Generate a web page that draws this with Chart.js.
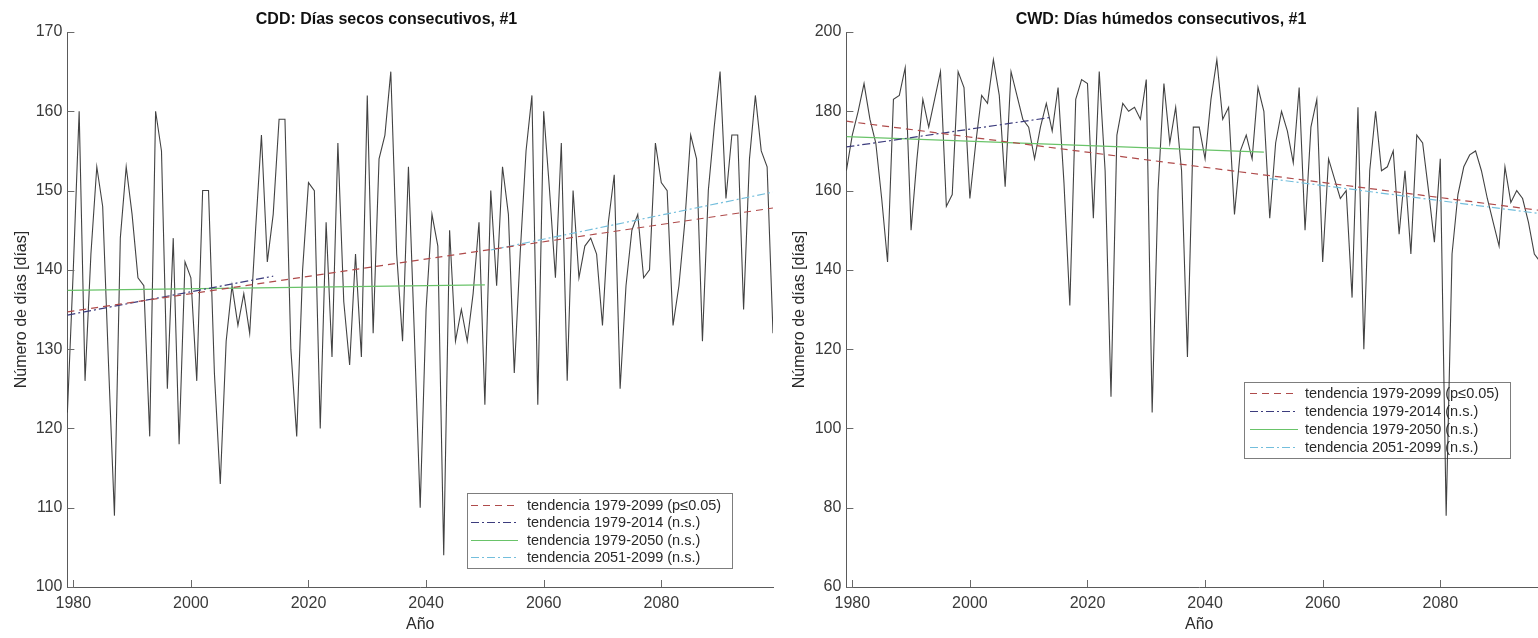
<!DOCTYPE html>
<html><head><meta charset="utf-8">
<script src="https://cdn.jsdelivr.net/npm/chart.js@4.4.1/dist/chart.umd.min.js"></script>
<style>
html,body{margin:0;padding:0;background:#fff;overflow:hidden;width:1538px;height:638px;}
#wrap{position:relative;width:1538px;height:638px;overflow:hidden;background:#fff;}
canvas{position:absolute;top:0;}
#c1{left:0;}
#c2{left:770px;}
</style></head><body>
<div id="wrap"><canvas id="c1" width="790" height="638"></canvas><canvas id="c2" width="800" height="638"></canvas></div>
<script>
// ---------- data ----------
const firstYear = 1979;
const lastYear = 2099;
const years = [];
for (let y = firstYear; y <= lastYear; y++) years.push(y);

// CDD: consecutive dry days, 1979..2099
const cddValues = [
  122,
  140,160,126,142,153,148,128,109,144,153,   // 1980-1989
  147,139,138,119,160,155,125,144,118,141,   // 1990-1999
  139,126,150,150,127,113,131,138,133,137,   // 2000-2009
  132,145,157,141,147,159,159,130,119,140,   // 2010-2019
  151,150,120,146,129,156,136,128,142,129,   // 2020-2029
  162,132,154,157,165,142,131,153,132,110,   // 2030-2039
  135,147,143,104,145,131,135,131,137,146,   // 2040-2049
  123,150,138,153,147,127,142,155,162,123,   // 2050-2059
  160,150,139,156,126,150,139,143,144,142,   // 2060-2069
  133,146,152,125,138,145,147,139,140,156,   // 2070-2079
  151,150,133,138,146,157,154,131,150,158,   // 2080-2089
  165,149,157,157,135,154,162,155,153,132    // 2090-2099
];

// CWD: consecutive wet days, 1979..2099
const cwdValues = [
  165,
  174,180,187,178,172,158,142,183,184,191,   // 1980-1989
  150,168,183,176,183,190,156,159,190,186,   // 1990-1999
  158,172,184,182,193,184,161,190,184,178,   // 2000-2009
  176,168,176,182,175,186,162,131,183,188,   // 2010-2019
  187,153,190,165,108,174,182,180,181,178,   // 2020-2029
  188,104,160,187,172,181,165,118,176,176,   // 2030-2039
  168,183,193,178,181,154,170,174,168,186,   // 2040-2049
  180,153,172,180,175,167,186,150,176,183,   // 2050-2059
  142,168,163,158,160,133,181,120,165,180,   // 2060-2069
  165,166,170,149,165,144,174,172,160,147,   // 2070-2079
  168,78,144,159,166,169,170,165,158,152,    // 2080-2089
  146,166,157,160,158,152,144,142,148,150    // 2090-2099
];

const trendLabels = [
  'tendencia 1979-2099 (p\u22640.05)',
  'tendencia 1979-2014 (n.s.)',
  'tendencia 1979-2050 (n.s.)',
  'tendencia 2051-2099 (n.s.)'
];
const trendFromYear = [1979, 1979, 1979, 2051];
const trendToYear   = [2099, 2014, 2050, 2099];
const cddTrendStart = [134.7, 134.3, 137.4, 142.5];
const cddTrendEnd   = [147.8, 139.2, 138.1, 149.8];
const cwdTrendStart = [177.5, 171.0, 173.6, 163.0];
const cwdTrendEnd   = [154.6, 178.5, 169.7, 153.8];

const xTickValues = [1980, 2000, 2020, 2040, 2060, 2080];
const cddYTicks = [100, 110, 120, 130, 140, 150, 160, 170];
const cwdYTicks = [60, 80, 100, 120, 140, 160, 180, 200];

// ---------- styles ----------
const FONT = "'Liberation Sans', Arial, Helvetica, sans-serif";
const trendColors = ['rgb(175,75,75)', 'rgb(60,60,125)', 'rgb(105,195,105)', 'rgb(115,190,220)'];
const trendDashes = [[7,5], [8,3,2,3], [], [8,3,2,3]];

// ---------- plugins ----------
const insideLegend = {
  id: 'insideLegend',
  beforeDatasetsDraw(chart, args, o) {
    const ctx = chart.ctx;
    ctx.save();
    ctx.fillStyle = '#fff';
    ctx.fillRect(o.x, o.y, o.w, o.h);
    ctx.strokeStyle = '#7d7d7d';
    ctx.lineWidth = 1;
    ctx.setLineDash([]);
    ctx.strokeRect(o.x + 0.5, o.y + 0.5, o.w, o.h);
    const items = chart.data.datasets.filter(d => d.inLegend);
    items.forEach((d, i) => {
      const cy = Math.round(o.y + o.firstRow + i * o.rowGap) + 0.5;
      ctx.strokeStyle = d.borderColor;
      ctx.lineWidth = d.borderWidth;
      ctx.setLineDash(d.borderDash || []);
      ctx.beginPath();
      ctx.moveTo(o.x + o.sampleX, cy);
      ctx.lineTo(o.x + o.sampleX + o.sampleLen, cy);
      ctx.stroke();
      ctx.setLineDash([]);
      ctx.fillStyle = '#2a2a2a';
      ctx.font = o.fontSize + 'px ' + FONT;
      ctx.textBaseline = 'middle';
      ctx.textAlign = 'left';
      ctx.fillText(d.label, o.x + o.textX, cy);
    });
    ctx.restore();
  }
};

const inwardTicks = {
  id: 'inwardTicks',
  afterDatasetsDraw(chart, args, o) {
    const {ctx, chartArea: a, scales} = chart;
    ctx.save();
    ctx.strokeStyle = o.color;
    ctx.lineWidth = 1;
    ctx.setLineDash([]);
    ctx.beginPath();
    scales.x.ticks.forEach(t => {
      const px = Math.round(scales.x.getPixelForValue(t.value)) + 0.5;
      ctx.moveTo(px, a.bottom);
      ctx.lineTo(px, a.bottom - o.len);
    });
    scales.y.ticks.forEach(t => {
      const py = Math.round(scales.y.getPixelForValue(t.value)) + 0.5;
      ctx.moveTo(a.left, py);
      ctx.lineTo(a.left + o.len, py);
    });
    ctx.stroke();
    ctx.restore();
  }
};

// ---------- builders ----------
function seriesPoints(values) {
  return years.map((yr, i) => ({x: yr, y: values[i]}));
}
function trendSets(starts, ends) {
  return trendLabels.map((lab, i) => ({
    label: lab,
    inLegend: true,
    data: [{x: trendFromYear[i], y: starts[i]}, {x: trendToYear[i], y: ends[i]}],
    borderColor: trendColors[i],
    borderDash: trendDashes[i],
    borderWidth: 1.2,
    pointRadius: 0,
    order: 0
  }));
}

function makeChart(id, cfg) {
  const tickFont = {family: FONT, size: 16};
  return new Chart(document.getElementById(id), {
    type: 'line',
    data: {
      datasets: [
        {
          label: cfg.name,
          data: seriesPoints(cfg.values),
          borderColor: 'rgba(45,45,45,0.9)',
          borderWidth: 1.1,
          pointRadius: 0,
          tension: 0,
          order: 1
        },
        ...trendSets(cfg.trendStart, cfg.trendEnd)
      ]
    },
    options: {
      responsive: false,
      animation: false,
      devicePixelRatio: 1,
      layout: {padding: {left: 0, right: cfg.padRight, top: 0, bottom: 0}},
      plugins: {
        legend: {display: false},
        tooltip: {enabled: false},
        title: {
          display: true,
          text: cfg.title,
          color: '#111',
          font: {family: FONT, size: 16, weight: 'bold'},
          padding: {top: 10.4, bottom: 2.4}
        },
        insideLegend: cfg.legend,
        inwardTicks: {len: 7, color: '#6a6a6a'}
      },
      scales: {
        x: {
          type: 'linear',
          min: firstYear,
          max: lastYear,
          afterBuildTicks: s => { s.ticks = xTickValues.map(v => ({value: v})); },
          afterFit: s => { s.height = 51; },
          grid: {display: false, drawTicks: false},
          border: {display: true, color: '#5a5a5a', width: 1},
          ticks: {font: tickFont, color: '#3a3a3a', padding: 7, maxRotation: 0, autoSkip: false,
                  callback: v => String(v)},
          title: {display: true, text: 'Año', font: tickFont, color: '#2a2a2a', padding: {top: 0, bottom: 3.4}}
        },
        y: {
          type: 'linear',
          min: cfg.yMin,
          max: cfg.yMax,
          afterBuildTicks: s => { s.ticks = cfg.yTicks.map(v => ({value: v})); },
          afterFit: s => { s.width = cfg.yWidth; },
          grid: {display: false, drawTicks: false},
          border: {display: true, color: '#5a5a5a', width: 1},
          ticks: {font: tickFont, color: '#3a3a3a', padding: 5, autoSkip: false,
                  callback: v => String(v)},
          title: {display: true, text: 'Número de días [días]', font: tickFont, color: '#2a2a2a',
                  padding: {top: cfg.yTitlePad, bottom: 0}}
        }
      }
    },
    plugins: [insideLegend, inwardTicks]
  });
}

makeChart('c1', {
  name: 'CDD',
  title: 'CDD: Días secos consecutivos, #1',
  values: cddValues,
  trendStart: cddTrendStart,
  trendEnd: cddTrendEnd,
  yMin: 100, yMax: 170, yTicks: cddYTicks,
  yWidth: 67.4, yTitlePad: 12.4, padRight: 17,
  legend: {x: 467, y: 493, w: 265, h: 75, firstRow: 11.5, rowGap: 17.6,
           sampleX: 4, sampleLen: 47, textX: 60, fontSize: 14.5}
});

makeChart('c2', {
  name: 'CWD',
  title: 'CWD: Días húmedos consecutivos, #1',
  values: cwdValues,
  trendStart: cwdTrendStart,
  trendEnd: cwdTrendEnd,
  yMin: 60, yMax: 200, yTicks: cwdYTicks,
  yWidth: 76.4, yTitlePad: 20.4, padRight: 18,
  legend: {x: 474, y: 382, w: 266, h: 76, firstRow: 10.5, rowGap: 18.3,
           sampleX: 6, sampleLen: 48, textX: 61, fontSize: 14.5}
});
</script>
</body></html>
